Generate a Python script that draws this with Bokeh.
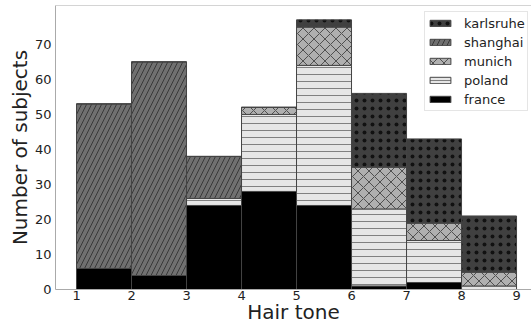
import numpy as np
from bokeh.plotting import figure
from bokeh.models import Range1d, FixedTicker, Legend, LegendItem, Span, ColumnDataSource, Title
from bokeh.transform import stack
from bokeh.embed import file_html
from bokeh.resources import INLINE

# ---- data ----
bin_left = [1, 2, 3, 4, 5, 6, 7, 8]
france = [6, 4, 24, 28, 24, 1, 2, 0]
poland = [0, 0, 2, 22, 40, 22, 12, 1]
munich = [0, 0, 0, 2, 11, 12, 5, 4]
shanghai = [47, 61, 12, 0, 0, 0, 0, 0]
karlsruhe = [0, 0, 0, 0, 2, 21, 24, 16]
series_names = ["france", "poland", "munich", "shanghai", "karlsruhe"]
x_ticks = [1, 2, 3, 4, 5, 6, 7, 8, 9]
y_ticks = [0, 10, 20, 30, 40, 50, 60, 70]

FONT = "DejaVu Sans"
fills = {"france": "#000000", "poland": "#e6e6e6", "munich": "#b0b0b0",
         "shanghai": "#707070", "karlsruhe": "#404040"}
hatches = {"france": "blank", "poland": "horizontal_line", "munich": "diagonal_cross",
           "shanghai": "right_diagonal_line", "karlsruhe": "dot"}
hatch_colors = {"france": "#000000", "poland": "#808080", "munich": "#505050",
                "shanghai": "#383838", "karlsruhe": "#111111"}
hatch_scales = {"france": 12, "poland": 7, "munich": 11, "shanghai": 10, "karlsruhe": 8}
hatch_weights = {"france": 1, "poland": 1, "munich": 1, "shanghai": 1, "karlsruhe": 0.8}

centers = [b + 0.5 for b in bin_left]
src = ColumnDataSource(dict(x=centers, france=france, poland=poland, munich=munich,
                            shanghai=shanghai, karlsruhe=karlsruhe))

y_end = 81.1
p = figure(width=531, height=326, output_backend="svg", toolbar_location=None,
           x_range=Range1d(0.618, 9.272), y_range=Range1d(0, y_end),
           min_border_left=55, min_border_right=0, min_border_top=5, min_border_bottom=37)
p.background_fill_color = "white"
p.border_fill_color = "white"
p.outline_line_color = None
p.xgrid.visible = False
p.ygrid.visible = False

renderers = {}
for i, name in enumerate(series_names):
    r = p.vbar(x="x", width=1, bottom=stack(*series_names[:i]), top=stack(*series_names[:i + 1]),
               source=src, fill_color=fills[name], line_color="#444444", line_width=1,
               hatch_pattern=hatches[name], hatch_color=hatch_colors[name],
               hatch_scale=hatch_scales[name], hatch_weight=hatch_weights[name])
    renderers[name] = r

for ax in (p.xaxis[0], p.yaxis[0]):
    ax.axis_line_color = "#aaaaaa"
    ax.axis_line_width = 1
    ax.major_tick_out = 0
    ax.major_tick_in = 0
    ax.minor_tick_out = 0
    ax.minor_tick_in = 0
    ax.major_label_text_font = FONT
    ax.major_label_text_font_size = "13px"
    ax.major_label_text_color = "#222222"
p.xaxis.ticker = FixedTicker(ticks=x_ticks)
p.yaxis.ticker = FixedTicker(ticks=y_ticks)
p.xaxis.major_label_standoff = 1
p.yaxis.major_label_standoff = 4

p.xaxis.axis_label = "Hair tone"
p.xaxis.axis_label_standoff = -3
p.xaxis.axis_label_text_font = FONT
p.xaxis.axis_label_text_font_size = "20px"
p.xaxis.axis_label_text_font_style = "normal"
p.xaxis.axis_label_text_color = "#222222"

p.add_layout(Title(text="Number of subjects", align="center", offset=17, standoff=0,
                   text_font=FONT, text_font_size="20px", text_font_style="normal",
                   text_color="#222222"), "left")

p.add_layout(Span(location=y_end, dimension="width", line_color="#aaaaaa", line_width=1))

legend = Legend(items=[LegendItem(label=n, renderers=[renderers[n]]) for n in reversed(series_names)],
                location=(369, 178), margin=0, padding=2, spacing=1,
                glyph_width=26, glyph_height=8, label_standoff=11, label_height=18,
                label_text_font=FONT, label_text_font_size="13px", label_text_color="#222222",
                border_line_color="#cccccc", border_line_width=1, background_fill_color="white",
                background_fill_alpha=1)
p.add_layout(legend)

open("out.html", "w").write(file_html(p, INLINE))
